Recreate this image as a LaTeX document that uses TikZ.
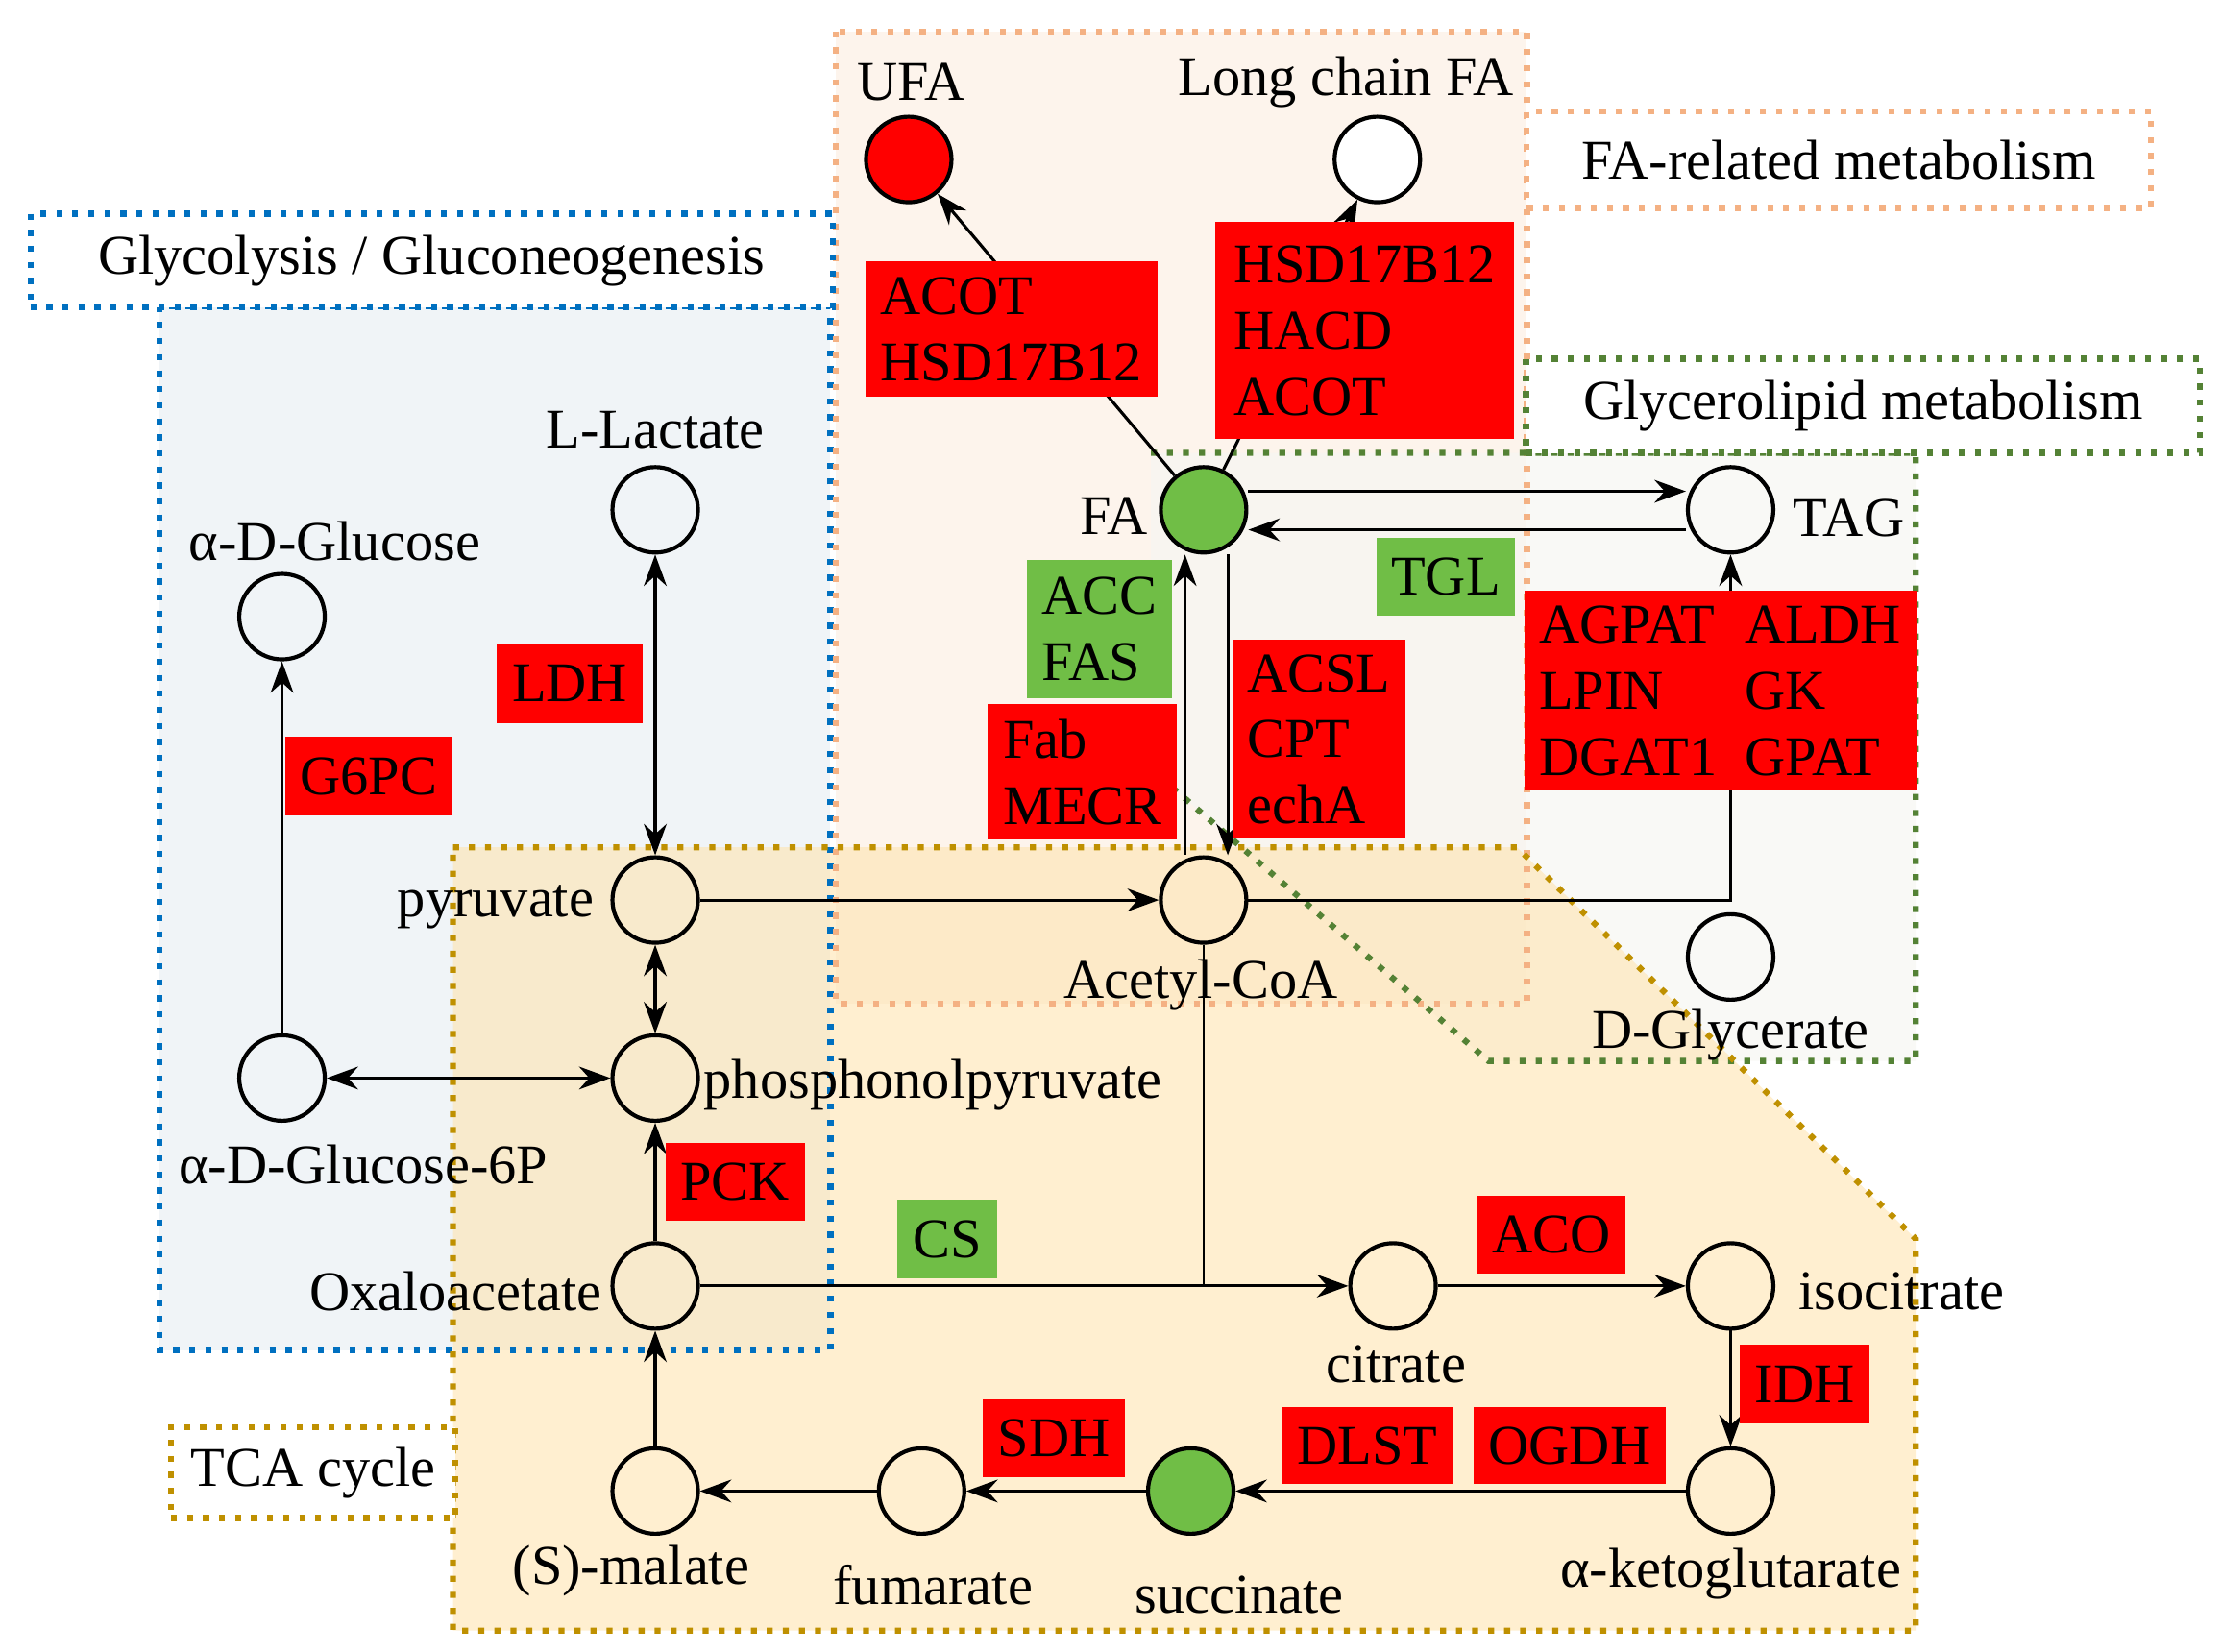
\documentclass[tikz,border=0pt]{standalone}
\usepackage{fontspec}
\setmainfont{Liberation Serif}
\usetikzlibrary{arrows.meta}
\definecolor{enzred}{RGB}{255,0,0}
\definecolor{enzgreen}{RGB}{112,190,70}
\definecolor{glyblue}{RGB}{0,112,192}
\definecolor{faorange}{RGB}{244,177,131}
\definecolor{glgreen}{RGB}{84,130,53}
\definecolor{tcagold}{RGB}{191,144,0}
\tikzstyle{arrow} = [semithick,-{Stealth[length=2.2mm,width=1.6mm]}]
\tikzstyle{darrow} = [semithick,{Stealth[length=2.2mm,width=1.6mm]}-{Stealth[length=2.2mm,width=1.6mm]}]

\begin{document}
\begin{tikzpicture}[x=0.01cm,y=-0.01cm,font=\fontsize{11.2}{13.2}\selectfont,
 met/.style={draw,thick,circle,minimum size=0.6cm,inner sep=0pt},
 txt/.style={inner sep=1pt},
 enz/.style={fill=enzred,align=left,inner sep=3pt,text depth=0pt},
 enzg/.style={fill=enzgreen,align=left,inner sep=3pt},
 region/.style={very thick,dotted},
 tag/.style={very thick,dotted,fill=white,inner sep=4pt}]
 \useasboundingbox (0,0) rectangle (1560,1160);

 % pathway regions
 \fill[fill={rgb,255:red,240;green,244;blue,247}] (112,215) rectangle (583,948);
 \fill[fill={rgb,255:red,252;green,240;blue,228},opacity=0.7] (587,22) rectangle (1072,705);
 \fill[fill={rgb,255:red,246;green,246;blue,242},opacity=0.7] (808,318) -- (1345,318) -- (1345,745) -- (1045,745) -- (808,540) -- cycle;
 \fill[fill={rgb,255:red,255;green,226;blue,170},opacity=0.55] (318,595) -- (1065,595) -- (1345,870) -- (1345,1145) -- (318,1145) -- cycle;
 \draw[region,glyblue] (112,215) rectangle (583,948);
 \draw[region,faorange] (587,22) rectangle (1072,705);
 \draw[region,glgreen] (808,318) -- (1345,318) -- (1345,745) -- (1045,745) -- (808,540);
 \draw[region,tcagold] (318,595) -- (1065,595) -- (1345,870) -- (1345,1145) -- (318,1145) -- cycle;

 \node[tag,draw=glyblue,minimum width=5.63cm,minimum height=0.66cm] (glytag) at (303,183) {Glycolysis / Gluconeogenesis};
 \node[tag,draw=faorange,minimum width=4.38cm,minimum height=0.68cm] (fatag) at (1291,112) {FA-related metabolism};
 \node[tag,draw=glgreen,minimum width=4.73cm,minimum height=0.66cm] (gltag) at (1308,285) {Glycerolipid metabolism};
 \node[tag,draw=tcagold,minimum width=1.96cm,minimum height=0.62cm] (tcatag) at (220,1034) {TCA cycle};

 % metabolites
 \node[met,fill=enzred] (ufa) at (638,112) {};
 \node[met,fill=white] (lcfa) at (967,112) {};
 \node[met,fill=enzgreen] (fa) at (845,358) {};
 \node[met] (tagc) at (1215,358) {};
 \node[met] (lact) at (460,358) {};
 \node[met] (gluc) at (198,433) {};
 \node[met] (pyr) at (460,632) {};
 \node[met] (accoa) at (845,632) {};
 \node[met] (dgly) at (1215,672) {};
 \node[met] (g6p) at (198,757) {};
 \node[met] (pep) at (460,757) {};
 \node[met] (oaa) at (460,903) {};
 \node[met] (cit) at (978,903) {};
 \node[met] (icit) at (1215,903) {};
 \node[met] (mal) at (460,1047) {};
 \node[met] (fum) at (647,1047) {};
 \node[met,fill=enzgreen] (succ) at (836,1047) {};
 \node[met] (akg) at (1215,1047) {};

 \node[txt] (ufal) at (640,58) {UFA};
 \node[txt] (lcfal) at (945,58) {Long chain FA};
 \node[txt] (fal) at (782,362) {FA};
 \node[txt] (tagl) at (1298,364) {TAG};
 \node[txt] (lactl) at (460,302) {L-Lactate};
 \node[txt] (glucl) at (235,380) {α-D-Glucose};
 \node[txt] (pyrl) at (348,637) {pyruvate};
 \node[txt] (accoal) at (843,692) {Acetyl-CoA};
 \node[txt] (dglyl) at (1215,727) {D-Glycerate};
 \node[txt] (g6pl) at (255,818) {α-D-Glucose-6P};
 \node[txt] (pepl) at (655,762) {phosphonolpyruvate};
 \node[txt] (oaal) at (320,907) {Oxaloacetate};
 \node[txt] (citl) at (980,958) {citrate};
 \node[txt] (icitl) at (1335,907) {isocitrate};
 \node[txt] (mall) at (443,1103) {(S)-malate};
 \node[txt] (fuml) at (655,1113) {fumarate};
 \node[txt] (succl) at (870,1120) {succinate};
 \node[txt] (akgl) at (1215,1105) {α-ketoglutarate};

 % reactions
 \draw[arrow] (fa) -- (ufa);
 \draw[arrow] (fa) -- (lcfa);
 \draw[arrow] ([yshift=0.13cm]fa.east) -- ([yshift=0.13cm]tagc.west);
 \draw[arrow] ([yshift=-0.14cm]tagc.west) -- ([yshift=-0.14cm]fa.east);
 \draw[arrow] ([xshift=-0.13cm]accoa.north) -- ([xshift=-0.13cm]fa.south);
 \draw[arrow] ([xshift=0.17cm]fa.south) -- ([xshift=0.17cm]accoa.north);
 \draw[arrow] (pyr) -- (accoa);
 \coordinate (tagj) at (1215,632);
 \draw[arrow] (accoa) -- (tagj) -- (tagc);
 \draw[darrow] (lact) -- (pyr);
 \draw[darrow] (pyr) -- (pep);
 \draw[darrow] (g6p) -- (pep);
 \draw[arrow] (g6p) -- (gluc);
 \draw[arrow] (oaa) -- (pep);
 \coordinate (citj) at (845,903);
 \draw[arrow] (oaa) -- (cit);
 \draw (accoa) -- (citj);
 \draw[arrow] (cit) -- (icit);
 \draw[arrow] (icit) -- (akg);
 \draw[arrow] (akg) -- (succ);
 \draw[arrow] (succ) -- (fum);
 \draw[arrow] (fum) -- (mal);
 \draw[arrow] (mal) -- (oaa);

 % enzymes
 \node[enz,minimum width=1.9cm,minimum height=0.95cm] (acot) at (710,231) {ACOT\\HSD17B12};
 \node[enz,minimum width=2.1cm,minimum height=1.52cm] (hsd) at (958,232) {HSD17B12\\HACD\\ACOT};
 \node[enzg,minimum width=0.99cm,minimum height=0.97cm] (acc) at (772,442) {ACC\\FAS};
 \node[enz,minimum width=1.24cm,minimum height=0.95cm] (fab) at (760,542) {Fab\\MECR};
 \node[enz,minimum width=1.17cm,minimum height=1.38cm] (acsl) at (926,519) {ACSL\\CPT\\echA};
 \node[enzg,minimum width=0.95cm,minimum height=0.54cm] (tgl) at (1015,405) {TGL};
 \node[enz,minimum width=1.37cm,minimum height=1.4cm] (agpat) at (1143,485) {AGPAT\\LPIN\\DGAT1};
 \node[enz,minimum width=1.25cm,minimum height=1.4cm] (aldh) at (1280,485) {ALDH\\GK\\GPAT};
 \node[enz,minimum width=1.0cm,minimum height=0.55cm] (ldh) at (400,480) {LDH};
 \node[enz,minimum width=1.14cm,minimum height=0.55cm] (g6pc) at (259,545) {G6PC};
 \node[enz,minimum width=0.97cm,minimum height=0.55cm] (pck) at (516,830) {PCK};
 \node[enzg,minimum width=0.7cm,minimum height=0.55cm] (cs) at (665,870) {CS};
 \node[enz,minimum width=1.02cm,minimum height=0.55cm] (aco) at (1089,867) {ACO};
 \node[enz,minimum width=0.9cm,minimum height=0.55cm] (idh) at (1267,972) {IDH};
 \node[enz,minimum width=0.96cm,minimum height=0.54cm] (sdh) at (740,1010) {SDH};
 \node[enz,minimum width=1.13cm,minimum height=0.54cm] (dlst) at (960,1015) {DLST};
 \node[enz,minimum width=1.29cm,minimum height=0.54cm] (ogdh) at (1102,1015) {OGDH};
\end{tikzpicture}
\end{document}
